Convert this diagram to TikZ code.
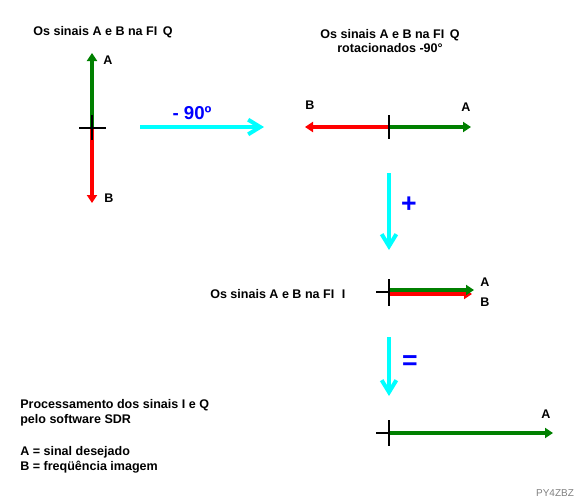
\documentclass[tikz,border=0pt]{standalone}
\usepackage{fontspec}
\setmainfont{Liberation Sans}
\usetikzlibrary{arrows.meta}
\definecolor{dgreen}{RGB}{0,128,0}
\definecolor{vred}{RGB}{255,0,0}
\definecolor{cy}{RGB}{0,255,255}
\definecolor{bl}{RGB}{0,0,255}
\tikzset{
  lbl/.style={font=\fontsize{9.4}{11.2}\selectfont\bfseries, inner sep=0pt},
  sigline/.style={line width=2.4pt, -{Triangle[length=6pt,width=7.5pt]}},
  axis/.style={line width=0.8pt, black},
  cyarrow/.style={line width=3pt, cy, -{Straight Barb[length=9pt,width=11pt,line width=3pt]}},
  sym/.style={font=\fontsize{14}{16}\selectfont\bfseries, text=bl, inner sep=0pt},
  bigsym/.style={font=\fontsize{20}{22}\selectfont\bfseries, text=bl, inner sep=0pt},
}
\begin{document}
\begin{tikzpicture}[x=0.75pt,y=-0.75pt]
\useasboundingbox (0,0) rectangle (580,500);
% ---- Panel 1
\node[lbl] (t1) at (103,32) {Os sinais A e B na FI\, Q};
\coordinate (o1) at (92,128);
\coordinate (a1) at (92,53);
\coordinate (b1) at (92,203);
\coordinate (h1l) at (79,128);
\coordinate (h1r) at (106,128);
\coordinate (v1t) at (92,115);
\coordinate (v1b) at (92,140);
\draw[sigline, draw=dgreen, fill=dgreen] (o1) -- (a1);
\draw[sigline, draw=vred, fill=vred] (o1) -- (b1);
\draw[axis] (h1l) -- (h1r);
\draw[axis] (v1t) -- (v1b);
\node[lbl] (la1) at (108,60) {A};
\node[lbl] (lb1) at (109,198) {B};
% ---- rotation arrow
\coordinate (r0) at (140,127);
\coordinate (r1) at (264,127);
\draw[cyarrow] (r0) -- (r1);
\node[sym] (m90) at (192,113) {- 90º};
% ---- Panel 2
\node[lbl, align=center] (t2) at (390,41) {Os sinais A e B na FI\, Q\\rotacionados -90°};
\coordinate (o2) at (389,127);
\coordinate (a2) at (471,127);
\coordinate (b2) at (305,127);
\coordinate (v2t) at (389,115);
\coordinate (v2b) at (389,139);
\draw[sigline, draw=vred, fill=vred] (o2) -- (b2);
\draw[sigline, draw=dgreen, fill=dgreen] (o2) -- (a2);
\draw[axis] (v2t) -- (v2b);
\node[lbl] (lb2) at (310,105) {B};
\node[lbl] (la2) at (466,107) {A};
% ---- plus arrow
\coordinate (p0) at (389,173);
\coordinate (p1) at (389,250);
\draw[cyarrow] (p0) -- (p1);
\node[bigsym] (plus) at (409,205) {+};
% ---- Panel 3
\node[lbl, anchor=west] (t3) at (210,294) {Os sinais A e B na FI\,\, I};
\coordinate (o3g) at (389,290);
\coordinate (a3) at (474,290);
\coordinate (o3r) at (389,294);
\coordinate (b3) at (472,294);
\coordinate (h3l) at (376,292);
\coordinate (h3r) at (390,292);
\coordinate (v3t) at (389,279);
\coordinate (v3b) at (389,306);
\draw[axis] (h3l) -- (h3r);
\draw[sigline, draw=vred, fill=vred] (o3r) -- (b3);
\draw[sigline, draw=dgreen, fill=dgreen] (o3g) -- (a3);
\draw[axis] (v3t) -- (v3b);
\node[lbl] (la3) at (485,282) {A};
\node[lbl] (lb3) at (485,302) {B};
% ---- equals arrow
\coordinate (e0) at (389,337);
\coordinate (e1) at (389,396);
\draw[cyarrow] (e0) -- (e1);
\node[bigsym] (eq) at (410,363) {=};
% ---- Panel 4
\coordinate (o4) at (389,433);
\coordinate (a4) at (553,433);
\coordinate (h4l) at (376,433);
\coordinate (h4r) at (390,433);
\coordinate (v4t) at (389,420);
\coordinate (v4b) at (389,446);
\draw[sigline, draw=dgreen, fill=dgreen] (o4) -- (a4);
\draw[axis] (h4l) -- (h4r);
\draw[axis] (v4t) -- (v4b);
\node[lbl] (la4) at (546,414) {A};
% ---- legend
\node[lbl, anchor=north west, align=left] (leg1) at (20,399) {Processamento dos sinais I e Q\\pelo software SDR};
\node[lbl, anchor=north west, align=left] (leg2) at (20,446) {A = sinal desejado\\B = freqüência imagem};
\node[font=\fontsize{7.5}{9}\selectfont, text=gray, inner sep=0pt] (sign) at (555,493) {PY4ZBZ};
\end{tikzpicture}
\end{document}
